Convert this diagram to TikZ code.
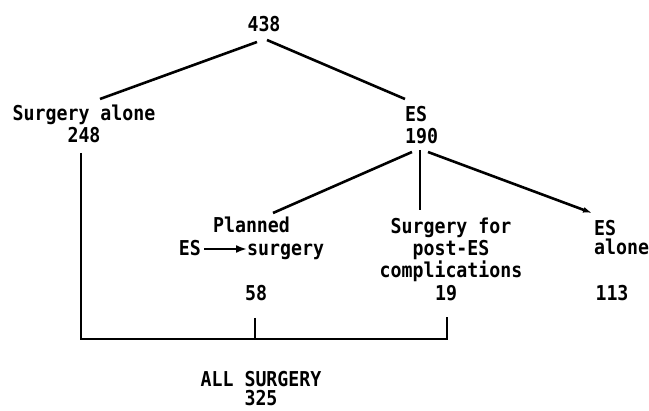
\documentclass[tikz,border=0pt]{standalone}
\usepackage{fontspec}
\usetikzlibrary{arrows.meta,calc}
\newfontfamily\diagfont[FakeStretch=0.89]{DejaVu Sans Mono}
\begin{document}
\begin{tikzpicture}[x=1pt,y=-1pt,
  lbl/.style={font=\diagfont\bfseries\fontsize{20.5}{22}\selectfont, inner sep=0pt, align=center},
  link/.style={line width=2.6pt},
]
\useasboundingbox (0,0) rectangle (649,411);
\node[lbl,anchor=base] (n438) at (264,32) {438};
\node[lbl,anchor=base] (nSA) at (84,143) {Surgery alone\\248};
\node[lbl,anchor=base west,align=left] (nES) at (405,144) {ES\\190};
\node[lbl,anchor=base] (nPl) at (251.5,233) {Planned};
\node[lbl,anchor=base east] (nESp) at (201,256) {ES};
\node[lbl,anchor=base west] (nSu) at (247,256) {surgery};
\node[lbl,anchor=base] (nSf) at (451,278) {Surgery for\\post-ES\\complications};
\node[lbl,anchor=base west,align=left] (nEA) at (594,255) {ES\\[-3pt]alone};
\node[lbl,anchor=base] (n58) at (256,301) {58};
\node[lbl,anchor=base] (n19) at (446,301) {19};
\node[lbl,anchor=base] (n113) at (612,301) {113};
\node[lbl,anchor=base] (nAll) at (261,406) {ALL SURGERY\\[-3pt]325};

\draw[link] ([xshift=-7pt,yshift=-10pt]n438.base) -- ([xshift=16pt,yshift=44pt]nSA.base);
\draw[link] ([xshift=3pt,yshift=-8pt]n438.base) -- ([yshift=45pt]nES.base west);
\draw[link] ([xshift=7pt,yshift=-8pt]nES.base west) -- ([xshift=21.5pt,yshift=20pt]nPl.base);
\draw[link] ([xshift=15pt,yshift=-6pt]nES.base west) -- ([xshift=-31pt,yshift=68pt]nSf.base);
\draw[link,-{Latex[length=9pt,width=6pt]}] ([xshift=23pt,yshift=-8pt]nES.base west) -- ([xshift=-2pt,yshift=42pt]nEA.base west);
\draw[link,-{Latex[length=11pt,width=8pt]}] ([xshift=3pt,yshift=7pt]nESp.base east) -- ([yshift=7pt]nSu.base west);

\coordinate (jn) at (255,339);
\draw[link] ([xshift=-3pt,yshift=-10pt]nSA.base) |- (jn) -| ([xshift=1pt,yshift=-16pt]n19.base);
\draw[link] ([xshift=-1pt,yshift=-17pt]n58.base) -- (jn);
\end{tikzpicture}
\end{document}
